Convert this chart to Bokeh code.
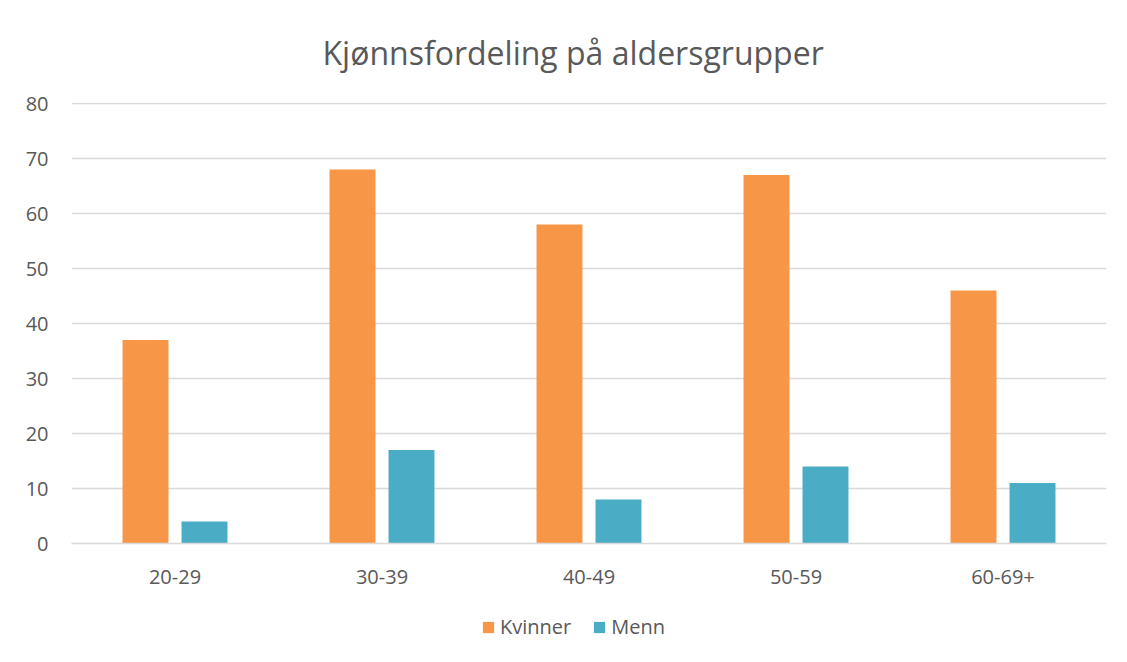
from bokeh.plotting import figure
from bokeh.layouts import column
from bokeh.models import ColumnDataSource, Legend, LegendItem, Title
from bokeh.transform import dodge
from bokeh.embed import file_html
from bokeh.resources import INLINE

categories = ["20-29", "30-39", "40-49", "50-59", "60-69+"]
kvinner = [37, 68, 58, 67, 46]
menn = [4, 17, 8, 14, 11]
series_names = ["Kvinner", "Menn"]
title_text = "Kjønnsfordeling på aldersgrupper"

FONT = "Open Sans"
TXT = "#595959"
GRID = "#D9D9D9"
COLORS = ["#F79646", "#4BACC6"]

src = ColumnDataSource(dict(cat=categories, kvinner=kvinner, menn=menn))

p = figure(x_range=categories, y_range=(0, 80.2), frame_width=1035, frame_height=441,
           output_backend="svg", toolbar_location=None,
           min_border_left=71, min_border_right=13, min_border_top=102,
           min_border_bottom=55)
p.title = None
t = Title(text=title_text, align="left", text_font=FONT, text_font_size="32px",
          text_color=TXT, text_font_style="normal", standoff=57, offset=251)
p.add_layout(t, "above")

p.vbar(x=dodge("cat", -0.1425, range=p.x_range), top="kvinner", width=0.222,
       source=src, fill_color=COLORS[0], line_color=None)
p.vbar(x=dodge("cat", 0.1425, range=p.x_range), top="menn", width=0.222,
       source=src, fill_color=COLORS[1], line_color=None)

p.outline_line_color = None
p.xgrid.grid_line_color = None
p.ygrid.grid_line_color = GRID
p.ygrid.grid_line_width = 1.3
p.yaxis.ticker = list(range(0, 81, 10))

for ax in (p.xaxis[0], p.yaxis[0]):
    ax.major_tick_line_color = None
    ax.minor_tick_line_color = None
    ax.major_label_text_font = FONT
    ax.major_label_text_font_size = "20px"
    ax.major_label_text_color = TXT
p.yaxis.axis_line_color = None
p.yaxis.major_label_standoff = 17
p.xaxis.axis_line_color = GRID
p.xaxis.axis_line_width = 1.3
p.xaxis.major_label_standoff = 20

# legend strip below the chart (swatches use off-screen proxy glyphs)
lg = figure(width=1119, height=60, output_backend="svg", toolbar_location=None,
            x_axis_location=None, y_axis_location=None, min_border=0,
            x_range=(0, 1), y_range=(0, 1))
lg.outline_line_color = None
lg.grid.grid_line_color = None
proxy = ColumnDataSource(dict(x=[5], top=[5]))
lr1 = lg.vbar(x="x", top="top", bottom=4, width=0.1, source=proxy,
              fill_color=COLORS[0], line_color=None)
lr2 = lg.vbar(x="x", top="top", bottom=4, width=0.1, source=proxy,
              fill_color=COLORS[1], line_color=None)
legend = Legend(items=[LegendItem(label=series_names[0], renderers=[lr1]),
                       LegendItem(label=series_names[1], renderers=[lr2])],
                orientation="horizontal", location=(410, 18),
                label_text_font=FONT, label_text_font_size="20px",
                label_text_color=TXT, glyph_width=14, glyph_height=14,
                border_line_color=None, background_fill_alpha=0,
                spacing=21, label_standoff=5, margin=0, padding=6)
lg.add_layout(legend, "center")

layout = column(p, lg, spacing=0)
open("out.html", "w").write(file_html(layout, INLINE))
